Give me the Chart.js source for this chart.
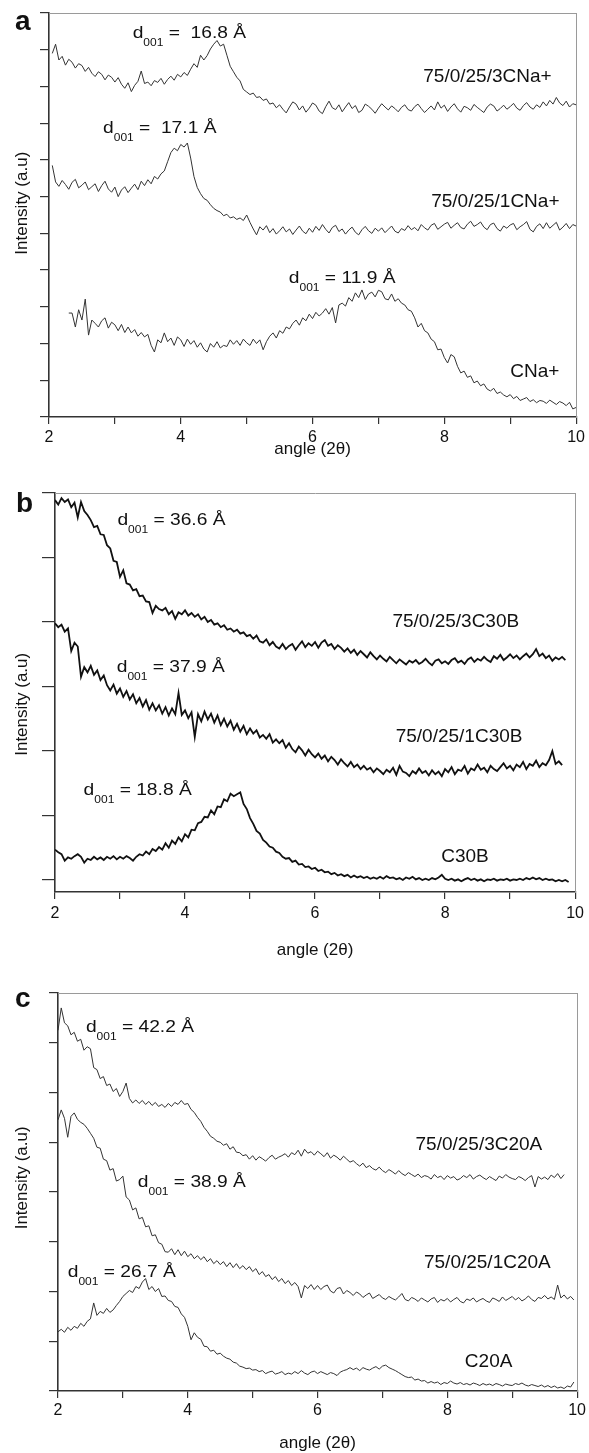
<!DOCTYPE html>
<html><head><meta charset="utf-8">
<script src="https://cdn.jsdelivr.net/npm/chart.js@4/dist/chart.umd.min.js"></script>
<style>
html,body{margin:0;padding:0;background:#fff;overflow:hidden;width:589px;height:1453px;}
canvas{position:absolute;left:0;}
</style></head><body>
<canvas id="pa" width="589" height="470" style="top:0px"></canvas>
<canvas id="pb" width="589" height="505" style="top:470px"></canvas>
<canvas id="pc" width="589" height="500" style="top:960px"></canvas>
<script>
// ---------- DATA ----------
const angles = [2,
2.05,2.1,2.15,2.2,2.25,2.3,2.35,2.4,2.45,2.5,
2.55,2.6,2.65,2.7,2.75,2.8,2.85,2.9,2.95,3,
3.05,3.1,3.15,3.2,3.25,3.3,3.35,3.4,3.45,3.5,
3.55,3.6,3.65,3.7,3.75,3.8,3.85,3.9,3.95,4,
4.05,4.1,4.15,4.2,4.25,4.3,4.35,4.4,4.45,4.5,
4.55,4.6,4.65,4.7,4.75,4.8,4.85,4.9,4.95,5,
5.05,5.1,5.15,5.2,5.25,5.3,5.35,5.4,5.45,5.5,
5.55,5.6,5.65,5.7,5.75,5.8,5.85,5.9,5.95,6,
6.05,6.1,6.15,6.2,6.25,6.3,6.35,6.4,6.45,6.5,
6.55,6.6,6.65,6.7,6.75,6.8,6.85,6.9,6.95,7,
7.05,7.1,7.15,7.2,7.25,7.3,7.35,7.4,7.45,7.5,
7.55,7.6,7.65,7.7,7.75,7.8,7.85,7.9,7.95,8,
8.05,8.1,8.15,8.2,8.25,8.3,8.35,8.4,8.45,8.5,
8.55,8.6,8.65,8.7,8.75,8.8,8.85,8.9,8.95,9,
9.05,9.1,9.15,9.2,9.25,9.3,9.35,9.4,9.45,9.5,
9.55,9.6,9.65,9.7,9.75,9.8,9.85,9.9,9.95,10];

const xTicks = [2,3,4,5,6,7,8,9,10];
const xTickLabels = ['2','','4','','6','','8','','10'];
const yTicksA = [0,1,2,3,4,5,6,7,8,9,10,11];
const yTicksB = [0,1,2,3,4,5,6];
const yTicksC = [0,1,2,3,4,5,6,7,8];

// Panel a
const namesA = ['75/0/25/3CNa+','75/0/25/1CNa+','CNa+'];
const dSpacingA = ['16.8','17.1','11.9'];
const a3CNa = [null,
9.90,10.15,9.72,9.82,9.58,9.74,9.66,9.50,9.62,9.57,
9.41,9.52,9.36,9.27,9.40,9.33,9.18,9.31,9.25,9.12,
9.24,9.06,8.95,9.10,8.86,9.03,9.14,9.42,9.08,9.12,
9.02,9.16,9.11,9.22,9.06,9.19,9.28,9.17,9.33,9.26,
9.38,9.30,9.47,9.62,9.52,9.85,9.72,9.84,10.02,10.15,
10.25,10.10,10.15,9.85,9.55,9.40,9.25,9.15,8.92,8.85,
8.78,8.82,8.70,8.72,8.62,8.66,8.52,8.55,8.42,8.50,
8.38,8.28,8.44,8.58,8.52,8.36,8.47,8.30,8.41,8.55,
8.49,8.33,8.26,8.45,8.60,8.42,8.37,8.50,8.31,8.44,
8.56,8.40,8.48,8.29,8.35,8.52,8.46,8.38,8.27,8.41,
8.53,8.44,8.36,8.47,8.40,8.31,8.43,8.50,8.37,8.33,
8.45,8.52,8.40,8.29,8.38,8.47,8.36,8.58,8.41,8.49,
8.32,8.44,8.53,8.39,8.30,8.46,8.42,8.35,8.51,8.43,
8.36,8.29,8.44,8.52,8.47,8.33,8.40,8.49,8.38,8.45,
8.54,8.41,8.35,8.48,8.56,8.44,8.38,8.50,8.43,8.58,
8.47,8.62,8.52,8.70,8.55,8.48,8.60,8.44,8.53,8.50];
const a1CNa = [null,
6.85,6.40,6.28,6.44,6.33,6.20,6.39,6.47,6.24,6.31,
6.40,6.19,6.27,6.35,6.14,6.30,6.42,6.21,6.12,6.26,
6.00,6.18,6.27,6.11,6.23,6.34,6.19,6.42,6.30,6.46,
6.35,6.55,6.48,6.62,6.70,6.95,7.20,7.32,7.25,7.42,
7.35,7.46,7.05,6.55,6.25,6.08,5.95,5.90,5.78,5.68,
5.62,5.58,5.48,5.52,5.42,5.45,5.38,5.42,5.35,5.50,
5.30,5.12,4.96,5.18,5.09,5.21,5.02,5.13,4.98,5.07,
5.18,5.04,5.12,4.97,5.09,5.20,5.06,4.99,5.14,5.03,
5.19,5.08,5.24,5.11,5.01,5.16,5.22,5.05,5.12,4.98,
5.09,5.17,5.03,4.96,5.10,5.19,5.07,5.00,5.14,5.06,
5.15,5.02,5.11,5.20,5.06,5.01,5.13,5.08,5.21,5.10,
5.16,5.07,5.24,5.15,5.09,5.22,5.27,5.11,5.18,5.25,
5.30,5.14,5.22,5.29,5.16,5.12,5.25,5.33,5.19,5.24,
5.31,5.17,5.10,5.24,5.28,5.13,5.06,5.20,5.14,5.23,
5.27,5.10,5.18,5.24,5.32,5.11,5.04,5.19,5.26,5.13,
5.29,5.14,5.22,5.30,5.09,5.17,5.27,5.13,5.24,5.20];
const aCNa = [null,
null,null,null,null,null,2.83,2.83,2.45,2.92,2.64,
3.21,2.23,2.64,2.55,2.45,2.62,2.70,2.42,2.58,2.51,
2.35,2.52,2.30,2.45,2.29,2.38,2.20,2.30,2.18,2.25,
1.95,1.77,2.10,2.02,2.29,2.05,2.15,1.95,2.18,2.10,
1.92,2.12,1.98,2.08,1.90,2.02,1.85,1.77,2.00,1.90,
2.05,1.88,1.95,1.92,2.10,1.98,2.08,1.95,2.12,2.02,
1.95,2.12,2.00,2.10,1.83,2.05,2.20,2.29,2.15,2.35,
2.28,2.45,2.40,2.55,2.64,2.50,2.70,2.62,2.80,2.68,
2.85,2.75,2.83,2.95,2.80,2.98,2.56,3.05,3.10,3.02,
3.25,3.15,3.38,3.25,3.46,3.20,3.35,3.40,3.27,3.45,
3.41,3.22,3.19,3.35,3.15,3.22,3.10,3.05,2.92,2.88,
2.70,2.45,2.55,2.35,2.29,2.12,2.05,1.83,1.85,1.62,
1.47,1.70,1.64,1.38,1.20,1.25,1.08,1.12,0.93,0.98,
0.85,0.90,0.76,0.71,0.78,0.64,0.68,0.60,0.55,0.61,
0.50,0.56,0.45,0.49,0.53,0.42,0.47,0.39,0.45,0.43,
0.37,0.46,0.40,0.34,0.42,0.38,0.31,0.40,0.22,0.26];

// Panel b
const namesB = ['75/0/25/3C30B','75/0/25/1C30B','C30B'];
const dSpacingB = ['36.6','37.9','18.8'];
const b3C30B = [5.89,
5.82,5.92,5.86,5.90,5.78,5.85,5.62,5.86,5.72,5.66,
5.58,5.47,5.49,5.36,5.35,5.19,5.14,4.95,4.93,4.70,
4.80,4.60,4.58,4.49,4.51,4.40,4.41,4.32,4.31,4.14,
4.25,4.20,4.18,4.22,4.12,4.17,4.05,4.15,4.12,4.18,
4.10,4.14,4.08,4.12,4.04,4.08,4.00,4.03,3.96,3.98,
3.92,3.95,3.88,3.90,3.85,3.88,3.82,3.84,3.78,3.80,
3.74,3.79,3.70,3.68,3.73,3.64,3.69,3.62,3.59,3.66,
3.58,3.63,3.66,3.57,3.64,3.70,3.61,3.67,3.63,3.69,
3.60,3.68,3.72,3.63,3.66,3.58,3.64,3.60,3.54,3.59,
3.52,3.57,3.49,3.55,3.50,3.45,3.53,3.47,3.42,3.48,
3.43,3.39,3.46,3.41,3.36,3.42,3.38,3.34,3.40,3.37,
3.41,3.35,3.38,3.43,3.37,3.33,3.40,3.42,3.36,3.39,
3.35,3.41,3.44,3.37,3.40,3.35,3.42,3.45,3.38,3.43,
3.40,3.46,3.41,3.38,3.47,3.43,3.49,3.41,3.45,3.50,
3.44,3.48,3.42,3.47,3.51,3.45,3.50,3.58,3.47,3.51,
3.44,3.48,3.40,3.45,3.42,3.46,3.41,null,null,null];
const b1C30B = [3.98,
3.92,3.96,3.85,3.90,3.55,3.68,3.62,3.15,3.30,3.22,
3.32,3.18,3.25,3.10,3.17,3.02,2.94,3.03,2.89,2.97,
2.84,2.93,2.80,2.88,2.74,2.82,2.69,2.79,2.64,2.74,
2.63,2.71,2.58,2.68,2.55,2.66,2.57,2.90,2.56,2.63,
2.51,2.60,2.22,2.57,2.46,2.61,2.49,2.58,2.44,2.55,
2.40,2.50,2.38,2.47,2.33,2.42,2.30,2.39,2.26,2.35,
2.27,2.32,2.21,2.25,2.19,2.26,2.13,2.18,2.12,2.17,
2.05,2.12,2.03,1.98,2.07,2.01,1.93,2.02,1.95,1.90,
1.96,1.88,1.93,1.84,1.91,1.86,1.79,1.87,1.81,1.76,
1.83,1.75,1.79,1.72,1.77,1.71,1.74,1.67,1.73,1.69,
1.64,1.71,1.67,1.74,1.63,1.77,1.68,1.66,1.61,1.69,
1.65,1.73,1.66,1.69,1.62,1.70,1.64,1.68,1.61,1.72,
1.67,1.75,1.64,1.71,1.69,1.77,1.65,1.73,1.70,1.79,
1.71,1.74,1.67,1.77,1.72,1.69,1.75,1.81,1.73,1.77,
1.70,1.79,1.75,1.83,1.72,1.80,1.77,1.85,1.75,1.81,
1.78,1.86,2.00,1.80,1.84,1.78,null,null,null,null];
const bC30B = [0.47,
0.43,0.40,0.30,0.35,0.33,0.37,0.40,0.36,0.27,0.33,
0.31,0.36,0.32,0.35,0.31,0.36,0.33,0.37,0.32,0.36,
0.33,0.37,0.34,0.30,0.36,0.40,0.38,0.44,0.40,0.48,
0.45,0.51,0.47,0.57,0.50,0.61,0.56,0.66,0.60,0.71,
0.66,0.78,0.77,0.88,0.90,0.98,0.97,1.08,1.02,1.14,
1.13,1.25,1.22,1.34,1.30,1.33,1.36,1.18,1.10,0.96,
0.87,0.76,0.72,0.62,0.58,0.52,0.50,0.44,0.42,0.36,
0.33,0.34,0.28,0.30,0.24,0.25,0.20,0.21,0.17,0.19,
0.14,0.16,0.12,0.13,0.09,0.11,0.07,0.09,0.06,0.08,
0.04,0.07,0.04,0.06,0.03,0.05,0.02,0.04,0.02,0.05,
0.02,0.06,0.03,0.04,0.01,0.03,0.00,0.04,0.02,0.05,
0.01,0.03,0.00,0.02,0.00,0.03,0.01,0.04,0.08,0.02,
0.00,0.02,-0.01,0.01,-0.02,0.01,0.03,0.00,0.02,-0.01,
0.01,-0.02,0.01,0.00,0.02,-0.01,0.01,0.00,0.02,-0.01,
0.01,0.00,0.02,0.00,0.03,0.01,0.04,0.01,0.03,0.00,
0.02,0.00,0.01,-0.02,0.00,-0.02,0.00,-0.03,null,null];

// Panel c
const namesC = ['75/0/25/3C20A','75/0/25/1C20A','C20A'];
const dSpacingC = ['42.2','38.9','26.7'];
const c3C20A = [7.25,
7.70,7.40,7.34,7.16,7.21,7.03,7.07,6.85,6.92,6.88,
6.50,6.46,6.28,6.32,6.14,6.17,6.02,6.08,5.92,6.02,
6.19,5.88,5.79,5.85,5.78,5.84,5.76,5.82,5.74,5.80,
5.72,5.76,5.70,5.78,5.72,5.80,5.76,5.84,5.76,5.78,
5.66,5.60,5.50,5.42,5.30,5.22,5.12,5.08,5.02,5.00,
4.94,4.97,4.86,4.91,4.80,4.79,4.73,4.75,4.66,4.73,
4.64,4.71,4.67,4.62,4.69,4.74,4.66,4.70,4.73,4.77,
4.70,4.79,4.75,4.84,4.72,4.86,4.78,4.81,4.74,4.82,
4.77,4.71,4.79,4.68,4.74,4.70,4.64,4.72,4.66,4.60,
4.63,4.57,4.52,4.58,4.49,4.53,4.47,4.44,4.50,4.43,
4.39,4.45,4.41,4.36,4.43,4.37,4.33,4.39,4.35,4.31,
4.36,4.29,4.33,4.31,4.26,4.35,4.29,4.32,4.25,4.33,
4.28,4.31,4.24,4.27,4.33,4.29,4.35,4.26,4.31,4.34,
4.29,4.25,4.31,4.27,4.23,4.32,4.28,4.35,4.30,4.27,
4.25,4.31,4.28,4.23,4.29,4.33,4.10,4.31,4.26,4.30,
4.25,4.34,4.29,4.37,4.27,4.35,null,null,null,null];
const c1C20A = [5.45,
5.65,5.48,5.10,5.52,5.59,5.46,5.40,5.36,5.28,5.18,
5.08,4.90,4.88,4.66,4.63,4.44,4.47,4.22,4.25,4.32,
3.90,3.84,3.64,3.68,3.46,3.49,3.30,3.32,3.12,3.14,
2.98,2.95,2.80,2.79,2.86,2.74,2.84,2.72,2.81,2.70,
2.76,2.66,2.72,2.64,2.70,2.60,2.66,2.56,2.62,2.54,
2.60,2.50,2.58,2.48,2.56,2.46,2.52,2.44,2.50,2.40,
2.46,2.34,2.40,2.30,2.34,2.24,2.30,2.20,2.26,2.16,
2.22,2.12,2.18,2.10,1.87,2.12,2.06,2.14,2.04,2.12,
2.04,2.10,2.13,2.01,1.97,2.06,2.08,1.95,2.02,1.98,
1.92,1.99,1.95,1.88,1.93,1.97,1.86,1.90,1.94,1.87,
1.84,1.90,1.86,1.83,1.89,1.96,1.84,1.81,1.88,1.85,
1.80,1.87,1.83,1.79,1.85,1.88,1.78,1.84,1.81,1.86,
1.79,1.84,1.88,1.80,1.77,1.85,1.82,1.87,1.79,1.83,
1.86,1.81,1.78,1.87,1.84,1.80,1.89,1.82,1.86,1.90,
1.83,1.88,1.81,1.85,1.91,1.84,1.80,1.88,1.86,1.92,
1.85,1.89,1.84,2.13,1.87,1.93,1.85,1.90,1.83,null];
const cC20A = [1.19,
1.24,1.18,1.28,1.22,1.30,1.26,1.36,1.30,1.40,1.45,
1.77,1.52,1.60,1.56,1.66,1.58,1.63,1.72,1.80,1.90,
1.96,2.02,1.98,2.10,2.06,2.19,2.26,2.04,2.10,2.00,
2.06,1.90,1.91,1.82,1.80,1.70,1.68,1.55,1.48,1.30,
1.03,1.17,1.08,1.04,0.90,0.89,0.80,0.82,0.74,0.76,
0.70,0.66,0.64,0.58,0.56,0.50,0.48,0.45,0.46,0.42,
0.43,0.39,0.41,0.35,0.38,0.40,0.34,0.36,0.39,0.33,
0.36,0.34,0.39,0.35,0.41,0.36,0.33,0.38,0.40,0.35,
0.39,0.36,0.33,0.37,0.35,0.31,0.38,0.41,0.43,0.47,
0.43,0.46,0.41,0.47,0.44,0.42,0.46,0.49,0.44,0.50,
0.52,0.47,0.44,0.41,0.37,0.33,0.29,0.27,0.28,0.22,
0.24,0.20,0.21,0.16,0.19,0.16,0.18,0.13,0.17,0.15,
0.20,0.16,0.14,0.17,0.13,0.15,0.12,0.16,0.14,0.11,
0.15,0.12,0.14,0.11,0.15,0.13,0.10,0.14,0.12,0.11,
0.15,0.13,0.16,0.12,0.10,0.13,0.11,0.09,0.12,0.08,
0.11,0.07,0.10,0.06,0.08,0.05,0.10,0.08,0.18,null];

// ---------- RENDERING ----------
const FONT = 'Arial, "Liberation Sans", Helvetica, sans-serif';
const INK = '#111';

const textPlugin = {
  id: 'panelText',
  afterDraw(chart, args, o) {
    const ctx = chart.ctx, xs = chart.scales.x, ys = chart.scales.y;
    ctx.save();
    ctx.fillStyle = INK; ctx.textAlign = 'left'; ctx.textBaseline = 'alphabetic';
    ctx.font = 'bold 28px ' + FONT;
    ctx.fillText(o.letter, o.letterPos[0], o.letterPos[1]);
    ctx.font = '19px ' + FONT;
    o.names.forEach((t, i) => {
      const p = o.namePos[i];
      ctx.fillText(t, xs.getPixelForValue(p[0]), ys.getPixelForValue(p[1]));
    });
    o.dValues.forEach((v, i) => {
      const p = o.dPos[i];
      ctx.save();
      ctx.translate(xs.getPixelForValue(p[0]), ys.getPixelForValue(p[1]));
      ctx.scale(1.2, 1);
      ctx.font = '16px ' + FONT; ctx.fillText('d', 0, 0);
      let w = ctx.measureText('d').width;
      ctx.font = '10px ' + FONT; ctx.fillText('001', w, 8);
      w += ctx.measureText('001').width;
      ctx.font = '16px ' + FONT; ctx.fillText((o.wide[i] ? ' =  ' : ' = ') + v + ' Å', w, 0);
      ctx.restore();
    });
    ctx.restore();
  }
};

function makePanel(id, c) {
  const datasets = c.series.map((s, i) => ({
    label: c.names[i],
    data: angles.map((a, j) => ({x: a, y: s[j]})),
    borderColor: c.lineColor, borderWidth: c.lineWidth,
    pointRadius: 0, tension: 0, fill: false, spanGaps: false,
    xAxisID: 'x', yAxisID: 'y'
  }));
  new Chart(document.getElementById(id), {
    type: 'line',
    data: {datasets},
    options: {
      responsive: false, animation: false, events: [],
      layout: {padding: {top: c.top, right: 10, left: 0, bottom: 0}},
      plugins: {
        legend: {display: false}, tooltip: {enabled: false},
        panelText: {letter: c.letter, letterPos: c.letterPos, names: c.names, namePos: c.namePos,
                    dValues: c.dValues, dPos: c.dPos, wide: c.wide}
      },
      scales: {
        x: {type: 'linear', position: 'bottom', min: 2, max: 10,
          afterBuildTicks: s => { s.ticks = xTicks.map(v => ({value: v})); },
          afterFit: s => { s.height = c.xAxisH; },
          ticks: {autoSkip: false, maxRotation: 0, padding: c.xTickPad, color: INK,
                  font: {family: FONT, size: 16}, callback: (v, i) => xTickLabels[i]},
          grid: {display: true, drawOnChartArea: false, drawTicks: true, tickLength: 7, color: '#333', lineWidth: 1.2},
          border: {display: true, color: '#333', width: 1.6},
          title: {display: true, text: 'angle (2θ)', color: INK, font: {family: FONT, size: 17},
                  padding: {top: 0, bottom: c.xTitlePad}}
        },
        y: {type: 'linear', position: 'left', min: c.yMin, max: c.yMax,
          afterBuildTicks: s => { s.ticks = c.yTicks.map(v => ({value: v})); },
          afterFit: s => { s.width = c.left; },
          ticks: {display: false},
          grid: {display: true, drawOnChartArea: false, drawTicks: true, tickLength: c.yTickLen, color: '#333', lineWidth: 1.2},
          border: {display: true, color: '#333', width: 1.6},
          title: {display: true, text: c.yTitle, color: INK, font: {family: FONT, size: 17},
                  padding: {top: 12, bottom: 0}}
        },
        xTop: {type: 'linear', position: 'top', min: 2, max: 10,
          afterFit: s => { s.height = 0; },
          ticks: {display: false}, grid: {display: false, drawTicks: false},
          border: {display: true, color: '#9a9a9a', width: 1}},
        yRight: {type: 'linear', position: 'right', min: 0, max: 1,
          afterFit: s => { s.width = 0; },
          ticks: {display: false}, grid: {display: false, drawTicks: false},
          border: {display: true, color: '#9a9a9a', width: 1}}
      }
    },
    plugins: [textPlugin]
  });
}

makePanel('pa', {
  series: [a3CNa, a1CNa, aCNa], names: namesA, dValues: dSpacingA, wide: [true, true, false],
  lineColor: '#333', lineWidth: 1,
  top: 13, xAxisH: 53, left: 49, yMin: 0, yMax: 11, yTicks: yTicksA, yTickLen: 9,
  xTickPad: 4, xTitlePad: 10, yTitle: '     Intensity (a.u)',
  letter: 'a', letterPos: [15, 30],
  namePos: [[7.68, 9.13], [7.80, 5.72], [9.00, 1.09]],
  dPos: [[3.27, 10.33], [2.82, 7.74], [5.64, 3.65]]
});
makePanel('pb', {
  series: [b3C30B, b1C30B, bC30B], names: namesB, dValues: dSpacingB, wide: [false, false, false],
  lineColor: '#111', lineWidth: 1.8,
  top: 23, xAxisH: 83, left: 55, yMin: -0.186, yMax: 6, yTicks: yTicksB, yTickLen: 13,
  xTickPad: 5, xTitlePad: 14, yTitle: 'Intensity (a.u)     ',
  letter: 'b', letterPos: [16, 42],
  namePos: [[7.19, 3.92], [7.24, 2.14], [7.94, 0.28]],
  dPos: [[2.96, 5.50], [2.95, 3.22], [2.44, 1.32]]
});
makePanel('pc', {
  series: [c3C20A, c1C20A, cC20A], names: namesC, dValues: dSpacingC, wide: [false, false, false],
  lineColor: '#333', lineWidth: 1,
  top: 33, xAxisH: 69, left: 58, yMin: 0, yMax: 8, yTicks: yTicksC, yTickLen: 9,
  xTickPad: 3, xTitlePad: 6, yTitle: '      Intensity (a.u)',
  letter: 'c', letterPos: [15, 47],
  namePos: [[7.51, 4.84], [7.64, 2.47], [8.27, 0.48]],
  dPos: [[2.43, 7.22], [3.23, 4.10], [2.15, 2.29]]
});
</script>
</body></html>
